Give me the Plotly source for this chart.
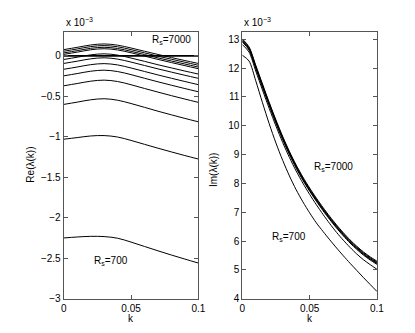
import plotly.graph_objects as go

# ---- data (Re values in units of 1e-3) ----
k_re = [0, 0.01, 0.02, 0.03, 0.04, 0.05, 0.06, 0.07, 0.08, 0.09, 0.1]
re_curves = [
    [0.077, 0.105, 0.134, 0.147, 0.132, 0.097, 0.057, 0.017, -0.021, -0.058, -0.094],
    [0.057, 0.085, 0.114, 0.127, 0.112, 0.077, 0.037, -0.004, -0.042, -0.079, -0.116],
    [0.036, 0.064, 0.093, 0.106, 0.091, 0.056, 0.016, -0.025, -0.064, -0.101, -0.139],
    [0.018, 0.046, 0.075, 0.088, 0.073, 0.038, -0.003, -0.044, -0.083, -0.121, -0.159],
    [-0.045, -0.017, 0.012, 0.025, 0.009, -0.027, -0.068, -0.110, -0.149, -0.188, -0.225],
    [-0.094, -0.066, -0.037, -0.024, -0.040, -0.077, -0.119, -0.161, -0.201, -0.240, -0.278],
    [-0.166, -0.138, -0.109, -0.096, -0.112, -0.150, -0.193, -0.236, -0.277, -0.317, -0.356],
    [-0.247, -0.219, -0.190, -0.177, -0.194, -0.232, -0.277, -0.321, -0.363, -0.404, -0.444],
    [-0.370, -0.342, -0.313, -0.300, -0.317, -0.357, -0.403, -0.448, -0.492, -0.534, -0.575],
    [-0.600, -0.572, -0.543, -0.530, -0.548, -0.589, -0.636, -0.684, -0.729, -0.773, -0.815],
    [-1.030, -1.010, -0.990, -0.985, -1.003, -1.045, -1.093, -1.141, -1.187, -1.232, -1.275],
    [-2.250, -2.238, -2.230, -2.233, -2.253, -2.301, -2.355, -2.409, -2.461, -2.511, -2.560],
]
zero_k = [0, 0.1]
zero_v = [0, 0]

# ---- data (Im values in units of 1e-3) ----
k_im = [0, 0.005, 0.01, 0.015, 0.02, 0.025, 0.03, 0.035, 0.04, 0.045, 0.05,
        0.055, 0.06, 0.065, 0.07, 0.075, 0.08, 0.085, 0.09, 0.095, 0.1]
im_curves = [
    [13.02, 12.74, 12.10, 11.45, 10.81, 10.20, 9.63, 9.11, 8.64, 8.22, 7.84, 7.49, 7.16, 6.85, 6.56, 6.29, 6.04, 5.82, 5.62, 5.45, 5.30],
    [12.99, 12.71, 12.07, 11.42, 10.78, 10.17, 9.60, 9.08, 8.61, 8.19, 7.81, 7.46, 7.13, 6.82, 6.53, 6.26, 6.01, 5.79, 5.59, 5.42, 5.27],
    [12.96, 12.68, 12.04, 11.39, 10.75, 10.14, 9.57, 9.05, 8.58, 8.16, 7.78, 7.43, 7.10, 6.79, 6.50, 6.23, 5.98, 5.76, 5.56, 5.39, 5.24],
    [12.94, 12.66, 12.02, 11.37, 10.73, 10.12, 9.55, 9.03, 8.56, 8.14, 7.76, 7.41, 7.08, 6.77, 6.48, 6.21, 5.96, 5.74, 5.54, 5.37, 5.22],
    [12.91, 12.63, 11.99, 11.34, 10.70, 10.09, 9.52, 9.00, 8.53, 8.11, 7.73, 7.38, 7.05, 6.74, 6.45, 6.18, 5.93, 5.71, 5.51, 5.34, 5.19],
    [12.82, 12.56, 11.90, 11.24, 10.60, 9.99, 9.42, 8.90, 8.43, 8.01, 7.62, 7.26, 6.92, 6.60, 6.30, 6.03, 5.78, 5.55, 5.35, 5.18, 5.02],
    [12.45, 12.25, 11.56, 10.80, 10.07, 9.40, 8.80, 8.26, 7.78, 7.36, 6.98, 6.63, 6.33, 6.04, 5.76, 5.49, 5.23, 4.98, 4.73, 4.49, 4.25],
]

re_ticks = [0, -0.5, -1, -1.5, -2, -2.5, -3]
im_ticks = [4, 5, 6, 7, 8, 9, 10, 11, 12, 13]
k_ticks = [0, 0.05, 0.1]
k_ticktext = ["0", "0.05", "0.1"]

FONT = "Liberation Sans, Arial, Helvetica, sans-serif"
W, H = 415, 333

fig = go.Figure()
for c in re_curves:
    fig.add_trace(go.Scatter(x=k_re, y=c, mode="lines", line=dict(color="black", width=1, shape="spline"),
                             xaxis="x", yaxis="y", showlegend=False, hoverinfo="skip"))
fig.add_trace(go.Scatter(x=zero_k, y=zero_v, mode="lines", line=dict(color="black", width=1.6),
                         xaxis="x", yaxis="y", showlegend=False, hoverinfo="skip"))
for c in im_curves:
    fig.add_trace(go.Scatter(x=k_im, y=c, mode="lines", line=dict(color="black", width=1, shape="spline", smoothing=0.8),
                             xaxis="x2", yaxis="y2", showlegend=False, hoverinfo="skip"))

axis_common = dict(showline=True, linecolor="#555", linewidth=1, mirror="allticks", ticks="inside",
                   ticklen=4, tickcolor="#555", showgrid=False, zeroline=False,
                   tickfont=dict(family=FONT, size=10, color="black"))

fig.update_layout(
    width=W, height=H, margin=dict(l=0, r=0, t=0, b=0),
    paper_bgcolor="white", plot_bgcolor="white",
    font=dict(family=FONT, size=10, color="black"),
    xaxis=dict(domain=[54 / W, 192 / W], range=[0, 0.1], tickvals=k_ticks, ticktext=k_ticktext, anchor="y", **axis_common),
    yaxis=dict(domain=[1 - 296 / H, 1 - 24 / H], range=[-3, 0.3], tickvals=re_ticks, anchor="x", **axis_common),
    xaxis2=dict(domain=[237 / W, 375 / W], range=[0, 0.1], tickvals=k_ticks, ticktext=k_ticktext, anchor="y2", **axis_common),
    yaxis2=dict(domain=[1 - 296 / H, 1 - 24 / H], range=[4, 13.27], tickvals=im_ticks, anchor="x2", **axis_common),
)

ann = [
    dict(text="x 10<sup>−3</sup>", xref="paper", yref="paper", x=54 / W, y=1 - 22 / H, xanchor="left", yanchor="bottom"),
    dict(text="x 10<sup>−3</sup>", xref="paper", yref="paper", x=237 / W, y=1 - 22 / H, xanchor="left", yanchor="bottom"),
    dict(text="Re(λ(k))", xref="paper", yref="paper", x=20 / W, y=1 - 160 / H, textangle=-90, xanchor="center", yanchor="middle"),
    dict(text="Im(λ(k))", xref="paper", yref="paper", x=207 / W, y=1 - 165 / H, textangle=-90, xanchor="center", yanchor="middle"),
    dict(text="k", xref="paper", yref="paper", x=123 / W, y=1 - 316 / H, xanchor="center", yanchor="middle"),
    dict(text="k", xref="paper", yref="paper", x=306 / W, y=1 - 316 / H, xanchor="center", yanchor="middle"),
    dict(text="R<sub>s</sub>=7000", xref="x", yref="y", x=0.080, y=0.20, xanchor="center", yanchor="middle"),
    dict(text="R<sub>s</sub>=700", xref="x", yref="y", x=0.035, y=-2.54, xanchor="center", yanchor="middle"),
    dict(text="R<sub>s</sub>=7000", xref="x2", yref="y2", x=0.068, y=8.58, xanchor="center", yanchor="middle"),
    dict(text="R<sub>s</sub>=700", xref="x2", yref="y2", x=0.035, y=6.15, xanchor="center", yanchor="middle"),
]
for a in ann:
    a.update(showarrow=False, font=dict(family=FONT, size=10, color="black"))
fig.update_layout(annotations=ann)

fig.write_html("out.html")
